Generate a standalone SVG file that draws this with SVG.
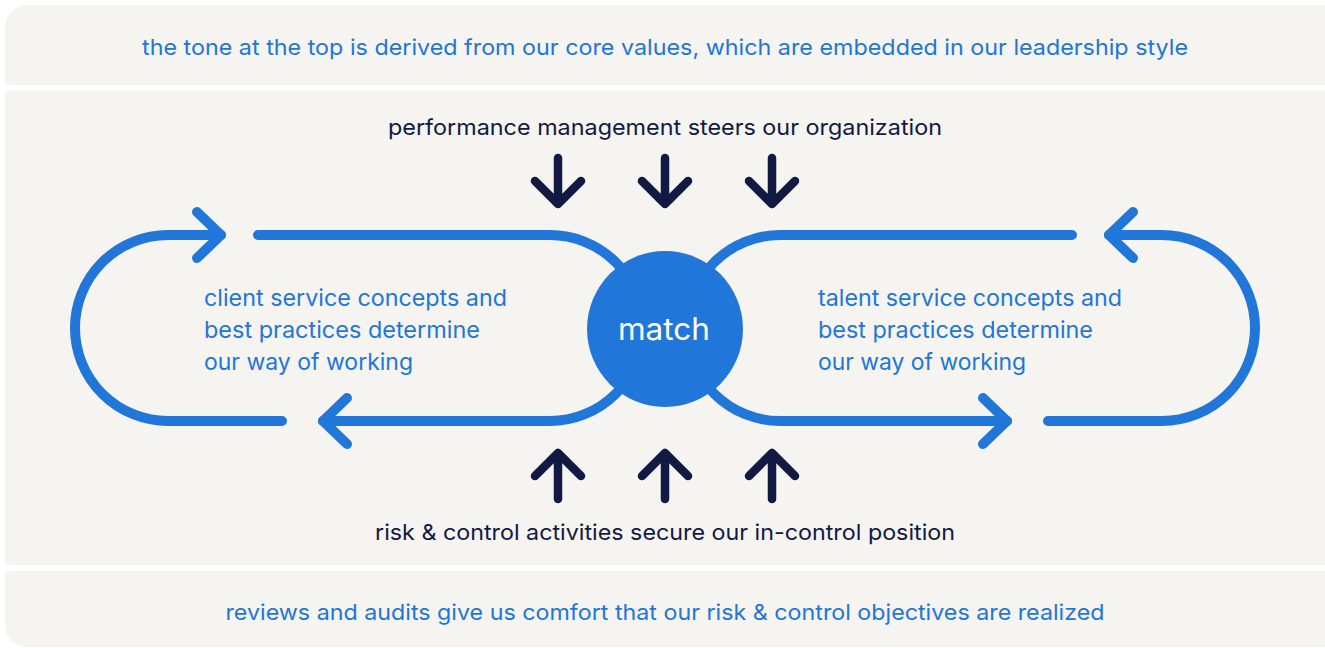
<svg xmlns="http://www.w3.org/2000/svg" width="1325" height="648" viewBox="0 0 1325 648">
<defs>
<style>
.band{fill:#f5f4f0}
.t{font-family:Inter,"Noto Sans",sans-serif;font-size:22px}
.s{font-size:23px}
.blue{fill:#2176d9}
.navy{fill:#121a44}
.loop{fill:none;stroke:#2176d9;stroke-width:10;stroke-linecap:round;stroke-linejoin:round}
.dark{fill:none;stroke:#121a44;stroke-width:8.5;stroke-linecap:round;stroke-linejoin:round}
</style>
<clipPath id="card"><rect x="5" y="5" width="1340" height="642" rx="22"/></clipPath>
</defs>
<rect width="1325" height="648" fill="#ffffff"/>
<g id="bands" clip-path="url(#card)">
<rect class="band" x="5" y="5" width="1340" height="80"/>
<rect class="band" x="5" y="90.5" width="1340" height="474.5"/>
<rect class="band" x="5" y="571" width="1340" height="80"/>
</g>
<g id="top-text"><text class="t blue" x="665" y="55" text-anchor="middle" textLength="1046" lengthAdjust="spacingAndGlyphs">the tone at the top is derived from our core values, which are embedded in our leadership style</text></g>
<g id="perf-text"><text class="t navy" x="665" y="135" text-anchor="middle" textLength="554" lengthAdjust="spacingAndGlyphs">performance management steers our organization</text></g>
<g id="risk-text"><text class="t navy" x="665" y="540" text-anchor="middle" textLength="580" lengthAdjust="spacingAndGlyphs">risk &amp; control activities secure our in-control position</text></g>
<g id="bottom-text"><text class="t blue" x="665" y="620" text-anchor="middle" textLength="879" lengthAdjust="spacingAndGlyphs">reviews and audits give us comfort that our risk &amp; control objectives are realized</text></g>
<g id="connectors">
<path class="loop" d="M282 421 H168 A93 93 0 0 1 168 235 H221"/>
<path class="loop" d="M197 212 L221 235 L197 258"/>
<path class="loop" d="M258 235 H550 A93 93 0 0 1 643 328"/>
<path class="loop" d="M323 421 H550 A93 93 0 0 0 643 328"/>
<path class="loop" d="M347 398 L323 421 L347 444"/>
<path class="loop" d="M1048 421 H1162 A93 93 0 0 0 1162 235 H1109"/>
<path class="loop" d="M1133 212 L1109 235 L1133 258"/>
<path class="loop" d="M1072 235 H780 A93 93 0 0 0 687 328"/>
<path class="loop" d="M1007 421 H780 A93 93 0 0 1 687 328"/>
<path class="loop" d="M983 398 L1007 421 L983 444"/>
<path class="dark" d="M558 158 V204 M535 181 L558 204 L581 181"/>
<path class="dark" d="M665 158 V204 M642 181 L665 204 L688 181"/>
<path class="dark" d="M772 158 V204 M749 181 L772 204 L795 181"/>
<path class="dark" d="M558 499 V453 M535 476 L558 453 L581 476"/>
<path class="dark" d="M665 499 V453 M642 476 L665 453 L688 476"/>
<path class="dark" d="M772 499 V453 M749 476 L772 453 L795 476"/>
</g>
<g id="match">
<circle cx="665" cy="329" r="78" fill="#2176d9"/>
<text x="664" y="340" text-anchor="middle" font-family="Inter,'Noto Sans',sans-serif" font-size="31" fill="#ffffff" textLength="92" lengthAdjust="spacingAndGlyphs">match</text>
</g>
<g id="client-text">
<text class="t s blue" x="204" y="306" textLength="303" lengthAdjust="spacingAndGlyphs">client service concepts and</text>
<text class="t s blue" x="204" y="338" textLength="276" lengthAdjust="spacingAndGlyphs">best practices determine</text>
<text class="t s blue" x="204" y="370" textLength="209" lengthAdjust="spacingAndGlyphs">our way of working</text>
</g>
<g id="talent-text">
<text class="t s blue" x="818" y="306" textLength="304" lengthAdjust="spacingAndGlyphs">talent service concepts and</text>
<text class="t s blue" x="818" y="338" textLength="275" lengthAdjust="spacingAndGlyphs">best practices determine</text>
<text class="t s blue" x="818" y="370" textLength="208" lengthAdjust="spacingAndGlyphs">our way of working</text>
</g>
</svg>
